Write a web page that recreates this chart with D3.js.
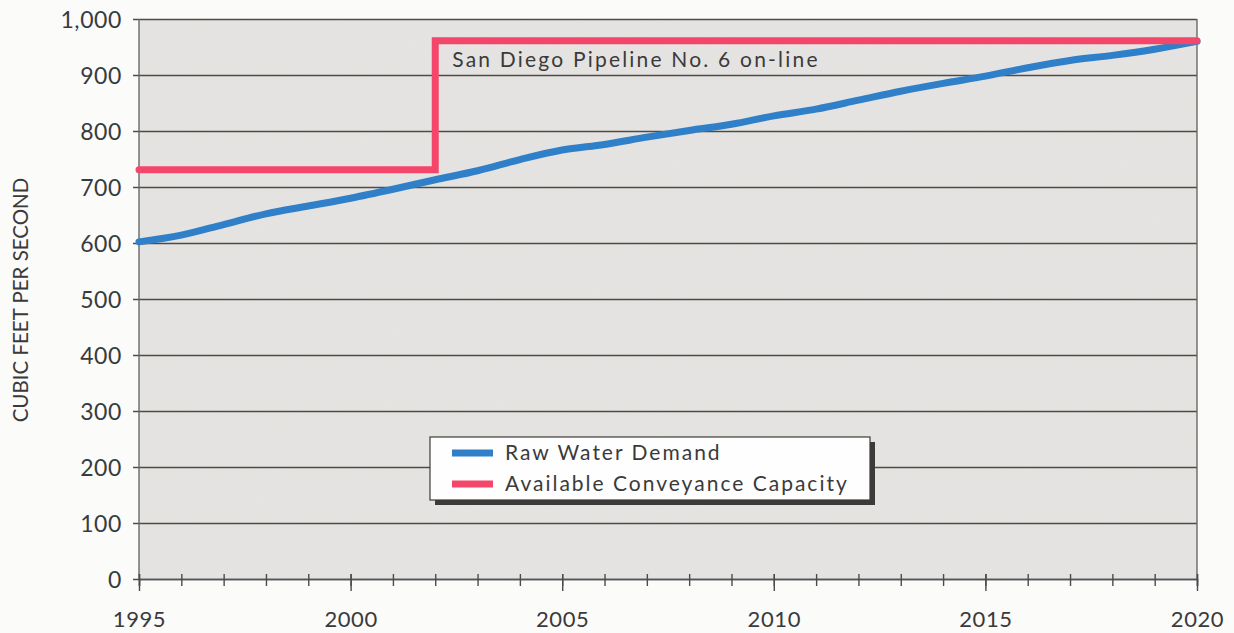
<!DOCTYPE html>
<html>
<head>
<meta charset="utf-8">
<script src="https://cdn.jsdelivr.net/npm/d3@7"></script>
<style>
  html, body { margin: 0; padding: 0; background: #fbfbfa; }
  svg { display: block; }
  text { font-family: Lato, "Open Sans", sans-serif; fill: #3a3a3a; }
</style>
</head>
<body>
<svg id="chart" width="1234" height="633"></svg>
<script>
// Yearly raw water demand (cfs)
const years = d3.range(1995, 2021);
const demand = [602, 614, 633, 652, 666, 680, 696, 713, 729, 749, 766, 776, 789, 801, 812, 827,
                839, 855, 871, 885, 898, 913, 926, 935, 946, 960];

// Available conveyance capacity (cfs), step change when Pipeline No. 6 comes on-line
const capacityYears = [1995, 2002, 2002, 2020];
const capacity = [731, 731, 961, 961];

const yTicks = [0, 100, 200, 300, 400, 500, 600, 700, 800, 900, 1000];
const xMajorTicks = [1995, 2000, 2005, 2010, 2015, 2020];

const seriesNames = ["Raw Water Demand", "Available Conveyance Capacity"];
const seriesColors = ["#2f80c9", "#f4466b"];
const annotationText = "San Diego Pipeline No. 6 on-line";
const yTitle = "CUBIC FEET PER SECOND";

const svg = d3.select("#chart");
const m = { left: 139, right: 1197, top: 19, bottom: 579 };

const x = d3.scaleLinear().domain([1995, 2020]).range([m.left, m.right]);
const y = d3.scaleLinear().domain([0, 1000]).range([m.bottom, m.top]);

// subtle paper grain for the plotting area
const defs = svg.append("defs");
const f = defs.append("filter").attr("id", "grain").attr("x", 0).attr("y", 0).attr("width", 1).attr("height", 1);
f.append("feTurbulence").attr("type", "fractalNoise").attr("baseFrequency", 0.9).attr("numOctaves", 2).attr("seed", 3).attr("result", "n");
f.append("feColorMatrix").attr("in", "n").attr("type", "matrix")
  .attr("values", "0 0 0 0 0.5  0 0 0 0 0.5  0 0 0 0 0.5  0 0 0 0.10 0").attr("result", "g");
f.append("feComposite").attr("in", "g").attr("in2", "SourceGraphic").attr("operator", "in").attr("result", "gc");
f.append("feMerge").selectAll("feMergeNode").data(["SourceGraphic", "gc"]).join("feMergeNode").attr("in", d => d);

svg.append("rect")
  .attr("x", m.left).attr("y", m.top)
  .attr("width", m.right - m.left).attr("height", m.bottom - m.top)
  .attr("fill", "#e7e5e3")
  .attr("filter", "url(#grain)");

// horizontal gridlines with left tick stubs
const yAxis = d3.axisLeft(y).tickValues(yTicks).tickSize(-(m.right - m.left)).tickPadding(17)
  .tickFormat(d3.format(","));
const gy = svg.append("g").attr("transform", `translate(${m.left},0)`).call(yAxis);
gy.select(".domain").remove();
gy.selectAll(".tick line").attr("x1", -6).attr("stroke", "#4d4b49").attr("stroke-width", 1.4);
gy.selectAll(".tick text").attr("font-size", 23).attr("letter-spacing", 0.6).attr("fill", "#3a3a3a").attr("dy", "0.35em");

// plot frame sides
svg.append("line").attr("x1", m.left).attr("x2", m.left).attr("y1", m.top).attr("y2", m.bottom)
  .attr("stroke", "#6a6866").attr("stroke-width", 1.4);
svg.append("line").attr("x1", m.right).attr("x2", m.right).attr("y1", m.top).attr("y2", m.bottom)
  .attr("stroke", "#6a6866").attr("stroke-width", 1.4);

// bottom axis: yearly minor ticks, labelled major ticks every five years
const gxMinor = svg.append("g").attr("transform", `translate(0,${m.bottom})`)
  .call(d3.axisBottom(x).tickValues(years).tickSize(7).tickFormat(""));
gxMinor.selectAll(".tick line").attr("y1", -5).attr("stroke", "#4d4b49").attr("stroke-width", 1.4);
gxMinor.select(".domain").attr("stroke", "#4d5560").attr("stroke-width", 1.6);

const gx = svg.append("g").attr("transform", `translate(0,${m.bottom})`)
  .call(d3.axisBottom(x).tickValues(xMajorTicks).tickSize(12).tickPadding(20).tickFormat(d3.format("d")));
gx.select(".domain").remove();
gx.selectAll(".tick line").attr("y1", -5).attr("stroke", "#4d4b49").attr("stroke-width", 1.4);
gx.selectAll(".tick text").attr("font-size", 22).attr("letter-spacing", 0.6).attr("fill", "#3a3a3a");

// y-axis title
svg.append("text")
  .attr("transform", `translate(28,${(m.top + m.bottom) / 2 + 1}) rotate(-90)`)
  .attr("text-anchor", "middle")
  .attr("font-size", 20.5)
  .text(yTitle);

// series lines
const line = d3.line().x(d => x(d[0])).y(d => y(d[1]));
svg.append("path")
  .datum(years.map((yr, i) => [yr, demand[i]]))
  .attr("d", line.curve(d3.curveMonotoneX))
  .attr("fill", "none").attr("stroke", seriesColors[0])
  .attr("stroke-width", 7).attr("stroke-linecap", "round").attr("stroke-linejoin", "round");

svg.append("path")
  .datum(capacityYears.map((yr, i) => [yr, capacity[i]]))
  .attr("d", d3.line().x(d => x(d[0])).y(d => y(d[1])))
  .attr("fill", "none").attr("stroke", seriesColors[1])
  .attr("stroke-width", 7).attr("stroke-linecap", "round").attr("stroke-linejoin", "miter");

// annotation for the capacity step
svg.append("text")
  .attr("x", x(2002) + 17).attr("y", y(capacity[2]) + 26)
  .attr("font-size", 21)
  .attr("letter-spacing", 2.2)
  .text(annotationText);

// legend box with drop shadow
const lg = svg.append("g").attr("transform", "translate(430,437)");
lg.append("rect").attr("x", 5).attr("y", 5).attr("width", 440).attr("height", 63).attr("fill", "#3d3b39");
lg.append("rect").attr("x", 0).attr("y", 0).attr("width", 440).attr("height", 63)
  .attr("fill", "#fefefe").attr("stroke", "#3d3b39").attr("stroke-width", 1.2);
seriesNames.forEach((name, i) => {
  const yy = 16 + i * 31;
  lg.append("line").attr("x1", 22).attr("x2", 63).attr("y1", yy).attr("y2", yy)
    .attr("stroke", seriesColors[i]).attr("stroke-width", 7);
  lg.append("text").attr("x", 75).attr("y", yy + 7)
    .attr("font-size", 21).attr("letter-spacing", 2.0)
    .text(name);
});
</script>
</body>
</html>
